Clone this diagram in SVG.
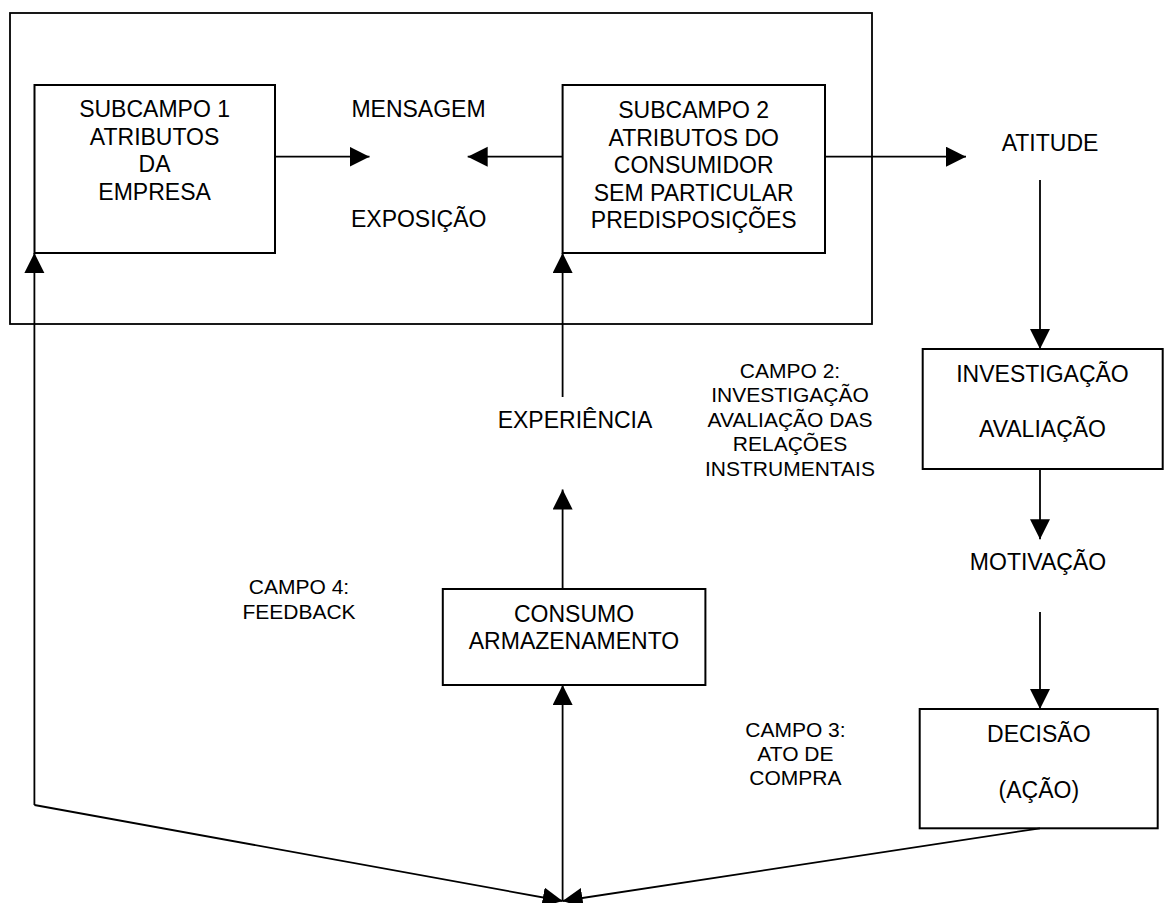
<svg xmlns="http://www.w3.org/2000/svg" width="1165" height="903" viewBox="0 0 1165 903">
  <style>
    .box { fill: #fff; stroke: #000; stroke-width: 2; }
    .frame { fill: none; stroke: #000; stroke-width: 1.8; }
    .line { fill: none; stroke: #000; stroke-width: 1.8; marker-end: url(#arr); }
    .t { font-family: "Liberation Sans", Arial, sans-serif; font-size: 23px; fill: #000; text-anchor: middle; }
    .s { font-family: "Liberation Sans", Arial, sans-serif; font-size: 21px; fill: #000; text-anchor: middle; }
  </style>
  <defs>
    <marker id="arr" markerUnits="userSpaceOnUse" markerWidth="21" markerHeight="21" refX="20" refY="10" orient="auto">
      <path d="M0,0 L20,10 L0,20 Z" fill="#000"/>
    </marker>
  </defs>
  <rect width="1165" height="903" fill="#fff"/>

  <g id="field1">
    <rect class="frame" x="10" y="13" width="862" height="311"/>
  </g>

  <g id="subcampo1">
    <rect class="box" x="34.5" y="85" width="240.5" height="168"/>
    <text class="t" x="154.6" y="117">SUBCAMPO 1</text>
    <text class="t" x="154.6" y="144.5">ATRIBUTOS</text>
    <text class="t" x="154.6" y="172">DA</text>
    <text class="t" x="154.6" y="199.5">EMPRESA</text>
  </g>

  <g id="subcampo2">
    <rect class="box" x="562.6" y="85" width="262.4" height="168"/>
    <text class="t" x="693.7" y="118">SUBCAMPO 2</text>
    <text class="t" x="693.7" y="145.5">ATRIBUTOS DO</text>
    <text class="t" x="693.7" y="173">CONSUMIDOR</text>
    <text class="t" x="693.7" y="200.5">SEM PARTICULAR</text>
    <text class="t" x="693.7" y="228">PREDISPOSIÇÕES</text>
  </g>

  <g id="mensagem">
    <text class="t" x="418.5" y="116.7">MENSAGEM</text>
    <text class="t" x="418.7" y="226.7">EXPOSIÇÃO</text>
  </g>

  <g id="atitude">
    <text class="t" x="1050" y="150.7">ATITUDE</text>
  </g>

  <g id="investigacao">
    <rect class="box" x="922.7" y="349" width="240" height="120"/>
    <text class="t" x="1042.5" y="381.7">INVESTIGAÇÃO</text>
    <text class="t" x="1042.5" y="436.7">AVALIAÇÃO</text>
  </g>

  <g id="motivacao">
    <text class="t" x="1038" y="570">MOTIVAÇÃO</text>
  </g>

  <g id="decisao">
    <rect class="box" x="919.7" y="709" width="238" height="119.3"/>
    <text class="t" x="1038.8" y="741.7">DECISÃO</text>
    <text class="t" x="1038.8" y="798.3">(AÇÃO)</text>
  </g>

  <g id="experiencia">
    <text class="t" x="575" y="428">EXPERIÊNCIA</text>
  </g>

  <g id="consumo">
    <rect class="box" x="442.8" y="589" width="262.6" height="96"/>
    <text class="t" x="574" y="621.7">CONSUMO</text>
    <text class="t" x="574" y="649.3">ARMAZENAMENTO</text>
  </g>

  <g id="campo2">
    <text class="s" x="790" y="378.3">CAMPO 2:</text>
    <text class="s" x="790" y="402.3">INVESTIGAÇÃO</text>
    <text class="s" x="790" y="426.7">AVALIAÇÃO DAS</text>
    <text class="s" x="790" y="451.3">RELAÇÕES</text>
    <text class="s" x="790" y="475.7">INSTRUMENTAIS</text>
  </g>

  <g id="campo3">
    <text class="s" x="795.4" y="736.7">CAMPO 3:</text>
    <text class="s" x="795.4" y="760.5">ATO DE</text>
    <text class="s" x="795.4" y="785">COMPRA</text>
  </g>

  <g id="campo4">
    <text class="s" x="299" y="594">CAMPO 4:</text>
    <text class="s" x="299" y="619">FEEDBACK</text>
  </g>

  <g id="connectors">
    <path class="line" d="M275,156.7 H369.5"/>
    <path class="line" d="M562.6,156.7 H467.7"/>
    <path class="line" d="M825,156.7 H966"/>
    <path class="line" d="M1040,180 V349"/>
    <path class="line" d="M1040,469 V539.3"/>
    <path class="line" d="M1040,612 V709"/>
    <path class="line" d="M562.6,397 V253"/>
    <path class="line" d="M562.6,589 V489.5"/>
    <path class="line" d="M562.6,901 V685"/>
    <path class="line" d="M34.4,805 V253"/>
    <path class="line" d="M34.4,805 L562.6,901"/>
    <path class="line" d="M1040,828.3 L562.6,901"/>
  </g>
</svg>
